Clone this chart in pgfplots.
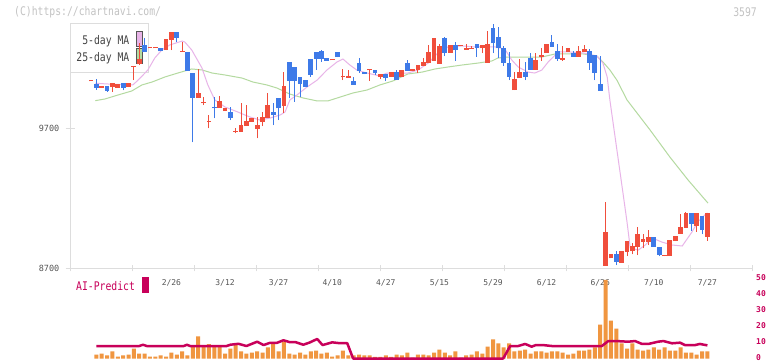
\documentclass[border=0pt]{standalone}
\usepackage{fontspec}
\setmainfont{DejaVu Sans Mono}
\newfontfamily\bigmono[FakeStretch=0.82]{DejaVu Sans Mono}
\usepackage{pgfplots}
\usepackage{pgfplotstable}
\pgfplotsset{compat=1.18}
\definecolor{cred}{RGB}{240,78,60}
\definecolor{cblue}{RGB}{62,122,232}
\definecolor{cpink}{RGB}{232,180,232}
\definecolor{cgreen}{RGB}{180,218,160}
\definecolor{corange}{RGB}{240,150,64}
\definecolor{ccrimson}{RGB}{200,0,90}
\definecolor{axgray}{RGB}{221,221,221}
\definecolor{txtgray}{RGB}{85,85,85}
\definecolor{leggray}{RGB}{68,68,68}
\definecolor{wmgray}{RGB}{195,195,195}
\definecolor{swborder}{RGB}{85,85,85}

\pgfplotstableread{
i o h l c
0 10033 10033 10033 10033
2 9987 9999 9987 9999
4 9992 10019 9959 10019
5 9987 10012 9987 10012
7 9992 10019 9992 10019
8 10135 10144 10042 10142
9 10153 10306 10149 10192
11 10268 10268 10268 10268
12 10268 10268 10268 10268
14 10256 10335 10256 10335
15 10327 10382 10256 10382
17 10242 10315 10242 10249
20 9916 10121 9916 9950
21 9876 9923 9864 9876
22 9745 9793 9698 9745
24 9845 9930 9845 9893
25 9821 9845 9821 9845
27 9674 9698 9662 9674
28 9674 9876 9674 9721
29 9714 9864 9714 9750
30 9745 9769 9745 9769
31 9693 9781 9627 9721
32 9745 9816 9714 9776
33 9773 9952 9773 9864
36 9857 10101 9809 9999
45 10183 10183 10183 10183
47 10061 10119 10042 10061
48 10059 10114 10059 10073
52 10111 10115 10037 10111
54 10066 10085 10047 10085
56 10066 10099 10066 10099
58 10066 10114 10066 10114
60 10109 10121 10109 10121
61 10114 10151 10090 10151
62 10144 10201 10144 10173
63 10166 10292 10166 10242
64 10180 10342 10180 10342
65 10158 10299 10158 10285
67 10237 10292 10237 10292
69 10285 10285 10285 10285
70 10258 10299 10258 10270
71 10265 10285 10265 10265
73 10268 10292 10233 10292
74 10166 10392 10166 10299
79 9971 10097 9971 10049
80 10059 10194 10059 10101
83 10114 10235 10114 10185
84 10208 10270 10180 10223
85 10237 10299 10237 10299
88 10187 10285 10180 10199
89 10242 10270 10242 10270
91 10208 10285 10208 10249
92 10242 10292 10242 10263
96 8718 9175 8718 8958
97 8771 8802 8771 8802
99 8740 8823 8740 8823
100 8818 8894 8787 8894
101 8823 8878 8799 8859
102 8854 8992 8794 8944
103 8889 8944 8842 8909
104 8889 8971 8866 8923
107 8787 8795 8787 8795
108 8787 8901 8787 8901
109 8894 8930 8894 8930
110 8946 9087 8946 8994
111 8989 9103 8989 9092
113 9003 9092 8961 9092
115 8925 9094 8896 9094
}\redtab

\pgfplotstableread{
i o h l c
1 10012 10052 9973 9987
3 9999 9999 9959 9966
6 10019 10019 9969 9987
10 10292 10340 10244 10244
13 10268 10268 10247 10247
16 10387 10387 10315 10344
18 10244 10244 10109 10109
19 10090 10090 9598 9916
23 9852 9923 9769 9840
26 9812 9852 9757 9773
34 9814 9876 9721 9793
35 9912 9912 9757 9840
37 10171 10171 9912 10035
38 10135 10135 9888 10035
39 10064 10064 9919 10016
40 10042 10042 9994 9994
41 10192 10192 10066 10078
42 10242 10242 10114 10192
43 10249 10256 10173 10192
44 10199 10199 10180 10180
46 10242 10242 10206 10206
49 10035 10066 10009 10009
50 10163 10201 10094 10106
51 10099 10099 10085 10085
53 10111 10111 10078 10090
55 10085 10085 10035 10054
57 10099 10114 10042 10042
59 10166 10185 10109 10109
66 10342 10351 10213 10233
68 10292 10313 10180 10256
72 10299 10299 10208 10268
75 10413 10442 10233 10304
76 10349 10422 10197 10268
77 10270 10285 10144 10166
78 10166 10244 10042 10066
81 10101 10171 10042 10066
82 10199 10235 10114 10114
86 10313 10363 10280 10280
87 10249 10299 10180 10190
90 10235 10249 10208 10208
93 10249 10263 10114 10166
94 10220 10220 10042 10094
95 10012 10213 9966 9966
98 8802 8823 8723 8747
105 8923 8923 8854 8854
106 8852 8852 8787 8795
112 9092 9092 8968 9018
114 9073 9073 8944 8973
}\bluetab

\pgfplotstableread{
i v
1 2.5
2 3.1
3 1.9
4 4.4
5 1.25
6 1.9
7 2.5
8 6.25
9 3.1
10 3.1
11 1.25
12 1.25
13 1.9
14 1.25
15 3.75
16 2.5
17 4.4
18 1.9
19 8
20 13.8
21 8
22 9
23 8
24 8
25 3.1
26 6.25
27 9.4
28 4.4
29 3.1
30 3.75
31 4.4
32 3.75
33 6.9
34 9.4
35 4.4
36 10.6
37 3.1
38 2.5
39 3.75
40 2.5
41 4.4
42 5
43 3.1
44 3.75
45 1.25
46 1.9
47 5
48 1.9
49 2
50 2.5
51 1.9
52 1.9
53 1
54 1
55 1.9
56 1
57 2.5
58 1.9
59 3.75
60 0.5
61 2.5
62 2.5
63 1.9
64 3.75
65 5.6
66 3.75
67 1.9
68 4.4
69 0.5
70 1.9
71 2.5
72 4.4
73 3.1
74 7.5
75 11.9
76 9.4
77 6.9
78 9.4
79 4.4
80 5
81 5.6
82 3.1
83 4.4
84 4.4
85 3.75
86 4.4
87 4.4
88 3.75
89 2.5
90 3.1
91 5
92 5
93 5.6
94 6.9
95 21.25
96 49.2
97 23.75
98 18.75
99 9.4
100 6.25
101 9.4
102 5.6
103 5
104 5.6
105 6.9
106 5.6
107 6.9
108 5
109 5
110 6.9
111 3.75
112 3.75
113 2.5
114 4.4
115 4.4
}\voltab

\begin{document}
\begin{tikzpicture}[x=1bp,y=1bp]
\useasboundingbox (0,0) rectangle (772,361);
\fill[white] (0,0) rectangle (772,361);
\node[anchor=base west, inner sep=0pt, text=wmgray, font=\bigmono\fontsize{11.9bp}{13bp}\selectfont] at (14,345.5) {(C)https://chartnavi.com/};
\node[anchor=base east, inner sep=0pt, text=wmgray, font=\bigmono\fontsize{11.9bp}{13bp}\selectfont] at (757,345) {3597};
% legend
\draw[axgray, line width=1bp, fill=white] (70,289) rectangle (148,337);
\node[anchor=base east, inner sep=0pt, text=leggray, font=\bigmono\fontsize{11.9bp}{13bp}\selectfont] at (129.5,316.7) {5-day MA};
\node[anchor=base east, inner sep=0pt, text=leggray, font=\bigmono\fontsize{11.9bp}{13bp}\selectfont] at (129.5,300) {25-day MA};
\draw[swborder, line width=0.8bp, fill=cpink] (136,314.3) rectangle (142.7,330);
\draw[swborder, line width=0.8bp, fill=cgreen] (136,297.7) rectangle (142.7,312.7);
% AI predict
\node[anchor=base west, inner sep=0pt, text=ccrimson, font=\bigmono\fontsize{11.9bp}{13bp}\selectfont] at (76,71) {AI-Predict};
\fill[ccrimson] (142,68.3) rectangle (148.7,84.3);

\begin{axis}[at={(70bp,92.7bp)}, anchor=south west, scale only axis,
  width=682bp, height=244.3bp,
  xmin=-3.918, xmax=123.32, ymin=8700, ymax=10441.5,
  scaled y ticks=false, scaled x ticks=false,
  axis x line*=bottom, axis y line*=left,
  axis line style={draw=axgray, line width=1bp},
  tick align=center, major tick length=9bp,
  every tick/.style={draw=axgray, line width=1bp},
  ytick={8700,9700}, yticklabels={8700,9700},
  yticklabel style={anchor=east, inner sep=0pt, xshift=-6bp, font=\fontsize{8.5bp}{10bp}\selectfont, text=txtgray},
  xtick={15,25,35,45,55,65,75,85,95,105,115},
  xticklabels={2/26,3/12,3/27,4/10,4/27,5/15,5/29,6/12,6/26,7/10,7/27},
  xtick style={draw=none},
  xticklabel style={anchor=base, inner sep=0pt, yshift=-13bp, font=\fontsize{8bp}{9bp}\selectfont, text=txtgray},
  extra x ticks={-3.918,7.649,19.216,30.784,42.351,53.918,65.485,77.052,88.62,100.187,111.754,123.32},
  extra x tick labels={},
  extra x tick style={xtick style={draw=axgray, line width=1bp}, major tick length=6bp},
]
\addplot[cgreen, line width=1bp, mark=none] coordinates {
(0.8,9895) (2.6,9907) (5,9935) (7.6,9964) (9.5,10007) (11.4,10028) (13.8,10064) (16.2,10092) (18.8,10121) (20.7,10114) (22.6,10092) (25,10078) (28.2,10056) (30.2,10028) (32.8,10007) (34.7,9985) (37.1,9942) (39.6,9914) (42.2,9893) (44.2,9893) (46.5,9921) (48.9,9950) (51.5,9971) (53.9,10007) (56.3,10035) (59.1,10085) (61.8,10099) (64.2,10121) (66.6,10135) (69.2,10149) (72.2,10163) (74.8,10178) (75.9,10199) (77.8,10206) (81.5,10206) (84.1,10206) (86.6,10228) (88.8,10228) (91.8,10228) (94.4,10213) (95.5,10171) (96.8,10114) (98.1,10042) (100,9900) (104.3,9686) (108,9493) (111.4,9329) (115.1,9165)};
\addplot[cpink, line width=1bp, mark=none] coordinates {
(0.8,10019) (4,10012) (7.8,10007) (8.8,10042) (10.6,10113) (11.9,10199) (13.2,10256) (14.7,10292) (17,10320) (17.5,10313) (18.8,10256) (20.7,10128) (21.8,10007) (23.1,9900) (25,9850) (27.4,9814) (28.7,9793) (29.7,9778) (31.5,9757) (33.4,9771) (35.3,9793) (36.2,9814) (37.1,9900) (38.4,9935) (40.3,9992) (42.2,10042) (44,10113) (45.9,10171) (47,10192) (48.3,10149) (49.6,10113) (51.5,10092) (53.9,10071) (55.2,10092) (59.1,10092) (61,10113) (62.9,10163) (64.7,10235) (66.6,10278) (69.2,10285) (71.6,10278) (75.4,10278) (77.2,10263) (78.5,10185) (79.7,10135) (81.5,10099) (82.8,10092) (84.1,10113) (85.3,10171) (86.6,10220) (87.5,10242) (89.4,10242) (91.8,10235) (94.4,10213) (95.5,10163) (96.3,10064) (96.8,9900) (99.3,9222) (100,9030) (100.6,8845) (102.1,8830) (103.4,8866) (104.7,8916) (106.5,8887) (108.4,8866) (110.3,8859) (112.1,8958) (113.2,9030) (114.5,9080) (115,9095)};
% wicks
\addplot[forget plot, draw=none, mark=none, error bars/.cd, y dir=plus, y explicit, error mark=none,
  error bar style={line width=1bp, draw=cred}]
  table[x=i, y=l, y error plus expr=\thisrow{h}-\thisrow{l}] {\redtab};
\addplot[forget plot, draw=none, mark=none, error bars/.cd, y dir=plus, y explicit, error mark=none,
  error bar style={line width=1bp, draw=cblue}]
  table[x=i, y=l, y error plus expr=\thisrow{h}-\thisrow{l}] {\bluetab};
% bodies
\addplot[forget plot, draw=none, mark=none, error bars/.cd, y dir=plus, y explicit, error mark=none,
  error bar style={line width=4.8bp, draw=cred}]
  table[x=i, y=o, y error plus expr={max(\thisrow{c}-\thisrow{o},7)}] {\redtab};
\addplot[forget plot, draw=none, mark=none, error bars/.cd, y dir=plus, y explicit, error mark=none,
  error bar style={line width=4.8bp, draw=cblue}]
  table[x=i, y=c, y error plus expr={max(\thisrow{o}-\thisrow{c},7)}] {\bluetab};
\end{axis}

\begin{axis}[at={(70bp,2.5bp)}, anchor=south west, scale only axis,
  width=682bp, height=80bp,
  xmin=-3.918, xmax=123.32, ymin=0, ymax=50,
  axis line style={draw=none}, xtick=\empty,
  ytick={0,10,20,30,40,50}, yticklabels={0,10,20,30,40,50},
  yticklabel pos=right, ytick style={draw=none},
  yticklabel style={anchor=west, inner sep=0pt, xshift=4bp, yshift=0.8bp, font=\bfseries\fontsize{8bp}{9bp}\selectfont, text=ccrimson},
  clip=false,
]
\addplot[ybar, bar width=4bp, fill=corange, draw=none] table[x=i, y=v] {\voltab};
\addplot[ccrimson, line width=2.5bp, mark=none, line join=round] coordinates {
(1,7.8) (9,7.8) (9.7,8.6) (10.4,7.8) (17.3,7.8) (17.9,8.6) (18.5,7.8) (25.3,7.8) (26,8.6) (27.5,9.2) (29,7.8) (31,10.5) (32.2,8.4) (33.3,9.7) (34.7,9.8) (35.9,11.4) (37.1,10.2) (38.2,10.2) (39.6,8.6) (40.8,10) (42.2,12.2) (43.2,8.4) (45,10.1) (46.3,9.6) (47.8,9.6) (48.9,0) (76.9,0) (78.2,7.8) (79.7,7.8) (81,9.1) (82.2,7.4) (83,8.4) (84.3,8.4) (86,7.8) (95.3,7.8) (96.5,10.9) (98,10.9) (100.2,10.5) (101.5,10.9) (102.8,9.1) (104,9.1) (105.8,10.5) (106.8,10.9) (108.4,9.5) (109.9,9.9) (110.8,8.4) (112.7,8.4) (113.6,9.1) (115,8.2)};
\end{axis}
\end{tikzpicture}
\end{document}
